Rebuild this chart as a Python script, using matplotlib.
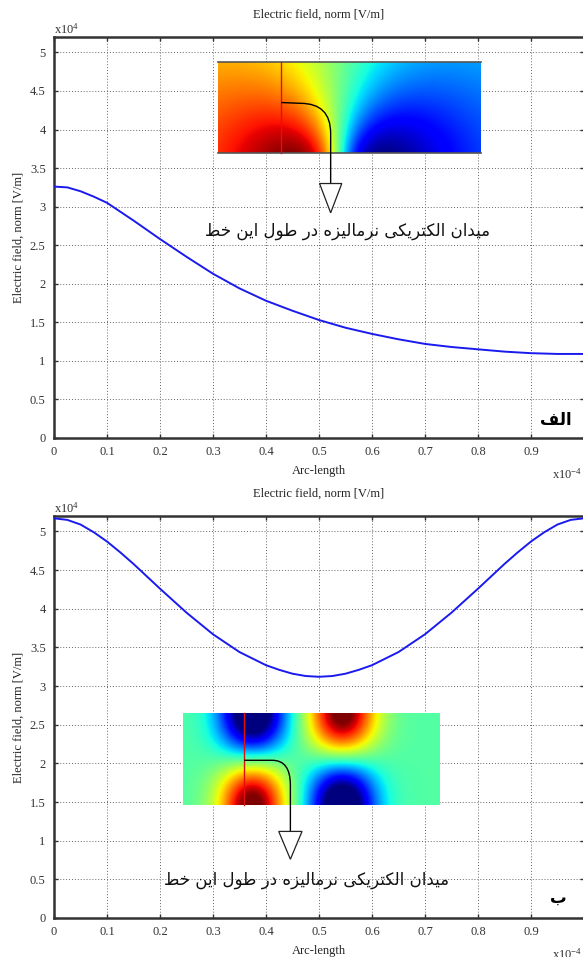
"""Two stacked COMSOL-style line plots of normalized electric field along an arc."""

import matplotlib
matplotlib.use("Agg")
import matplotlib.pyplot as plt
import numpy as np
from matplotlib.path import Path
from matplotlib.patches import PathPatch, Polygon

plt.rcParams["font.family"] = ["Liberation Serif", "DejaVu Serif"]
plt.rcParams["mathtext.fontset"] = "custom"
plt.rcParams["mathtext.rm"] = "Liberation Serif"
plt.rcParams["mathtext.it"] = "Liberation Serif"

# ---- data (arc-length in units of 1e-4, field in units of 1e4 V/m) ----
arc_a = [0, 0.025, 0.05, 0.075, 0.1, 0.15, 0.2, 0.25, 0.3, 0.35, 0.4, 0.45,
         0.5, 0.55, 0.6, 0.65, 0.7, 0.75, 0.8, 0.85, 0.9, 0.95, 1.0]
field_a = [3.26, 3.25, 3.20, 3.13, 3.05, 2.82, 2.58, 2.35, 2.13, 1.94, 1.78,
           1.65, 1.53, 1.43, 1.35, 1.28, 1.22, 1.18, 1.15, 1.12, 1.10, 1.09, 1.09]

arc_b = [0, 0.025, 0.05, 0.075, 0.1, 0.125, 0.15, 0.175, 0.2, 0.25, 0.3,
         0.35, 0.4, 0.425, 0.45, 0.475, 0.5, 0.525, 0.55, 0.575, 0.6, 0.65,
         0.7, 0.75, 0.8, 0.825, 0.85, 0.875, 0.9, 0.925, 0.95, 0.975, 1.0]
field_b = [5.17, 5.15, 5.09, 4.99, 4.87, 4.73, 4.58, 4.42, 4.26, 3.95, 3.67,
           3.44, 3.27, 3.21, 3.16, 3.13, 3.12, 3.13, 3.16, 3.21, 3.27, 3.44,
           3.67, 3.95, 4.26, 4.42, 4.58, 4.73, 4.87, 4.99, 5.09, 5.15, 5.17]

x_ticks = [0, 0.1, 0.2, 0.3, 0.4, 0.5, 0.6, 0.7, 0.8, 0.9, 1.0]
x_ticklabels = ["0", "0.1", "0.2", "0.3", "0.4", "0.5", "0.6", "0.7", "0.8", "0.9", ""]
y_ticks = [0, 0.5, 1, 1.5, 2, 2.5, 3, 3.5, 4, 4.5, 5]
y_ticklabels = ["0", "0.5", "1", "1.5", "2", "2.5", "3", "3.5", "4", "4.5", "5"]

title = "Electric field, norm [V/m]"
xlabel = "Arc-length"
note_fa = "میدان الکتریکی نرمالیزه در طول این خط"
panel_labels = ["الف", "ب"]

# ---- minimal Persian shaping (matplotlib has no RTL / joining support) ----
FORMS = {
    "ا": (0xFE8D, 0xFE8E, None, None),
    "د": (0xFEA9, 0xFEAA, None, None),
    "ر": (0xFEAD, 0xFEAE, None, None),
    "ز": (0xFEAF, 0xFEB0, None, None),
    "و": (0xFEED, 0xFEEE, None, None),
    "ب": (0xFE8F, 0xFE90, 0xFE91, 0xFE92),
    "م": (0xFEE1, 0xFEE2, 0xFEE3, 0xFEE4),
    "ن": (0xFEE5, 0xFEE6, 0xFEE7, 0xFEE8),
    "ل": (0xFEDD, 0xFEDE, 0xFEDF, 0xFEE0),
    "ت": (0xFE95, 0xFE96, 0xFE97, 0xFE98),
    "ط": (0xFEC1, 0xFEC2, 0xFEC3, 0xFEC4),
    "خ": (0xFEA5, 0xFEA6, 0xFEA7, 0xFEA8),
    "ه": (0xFEE9, 0xFEEA, 0xFEEB, 0xFEEC),
    "ف": (0xFED1, 0xFED2, 0xFED3, 0xFED4),
    "ک": (0xFB8E, 0xFB8F, 0xFB90, 0xFB91),
    "ی": (0xFBFC, 0xFBFD, 0xFBFE, 0xFBFF),
}


def shape_fa(text):
    out = []
    for i, c in enumerate(text):
        if c not in FORMS:
            out.append(c)
            continue
        prev = text[i - 1] if i > 0 else None
        nxt = text[i + 1] if i + 1 < len(text) else None
        join_prev = prev in FORMS and FORMS[prev][2] is not None
        join_next = FORMS[c][2] is not None and nxt in FORMS
        if join_prev and join_next:
            code = FORMS[c][3]
        elif join_prev:
            code = FORMS[c][1]
        elif join_next:
            code = FORMS[c][2]
        else:
            code = FORMS[c][0]
        out.append(chr(code))
    return "".join(reversed(out))


# ---- inset field pictures ----
def field_a_img(nx=300, ny=110):
    u, v = np.meshgrid(np.linspace(0, 1, nx), np.linspace(0, 1, ny))
    X = u * 2.86
    rp = np.hypot(X - 0.28 * 2.86, v + 0.15)
    rn = np.hypot(X - 0.63 * 2.86, v + 0.15)
    return 0.5 + 0.5 * np.tanh(1.15 * np.log(rn / rp))


def field_b_img(nx=300, ny=110):
    u, v = np.meshgrid(np.linspace(0, 1, nx), np.linspace(0, 1, ny))

    def g(u0, v0):
        return np.exp(-((u - u0) / 0.13) ** 2 - ((v - v0) / 0.5) ** 2)

    val = 0.45 + 0.6 * (g(0.27, 0) - g(0.62, 0) - g(0.27, 1) + g(0.62, 1))
    return np.clip(val, 0, 1)


def style_axes(ax):
    ax.set_xlim(0, 1)
    ax.set_ylim(0, 5.2)
    ax.set_xticks(x_ticks)
    ax.set_xticklabels(x_ticklabels)
    ax.set_yticks(y_ticks)
    ax.set_yticklabels(y_ticklabels)
    ax.grid(True, linestyle=(0, (1, 2)), color="#666666", linewidth=0.7)
    ax.tick_params(direction="in", length=3, width=1, top=True, right=True,
                   labelsize=9, colors="#333333", pad=6)
    for sp in ax.spines.values():
        sp.set_color("#333333")
        sp.set_linewidth(1.8)
    ax.text(0.5, 1.055, title, transform=ax.transAxes, ha="center",
            va="center", fontsize=9, color="#222222")
    ax.text(0.5, -0.082, xlabel, transform=ax.transAxes, ha="center",
            va="center", fontsize=9, color="#222222")
    ax.text(-0.066, 0.5, title, transform=ax.transAxes, ha="center",
            va="center", rotation=90, fontsize=9, color="#222222")
    ax.text(0.0, 1.0, r"x10$^{4}$", transform=ax.transAxes, ha="left",
            va="bottom", fontsize=9, color="#333333")
    ax.text(0.94, -0.09, r"x10$^{-4}$", transform=ax.transAxes, ha="left",
            va="center", fontsize=9, color="#333333")


def draw_pointer(ax, start, knee, corner, tri_top, tri_half, tri_tip):
    verts = [start, knee, (corner[0], knee[1]), corner, (corner[0], tri_top)]
    codes = [Path.MOVETO, Path.LINETO, Path.CURVE3, Path.CURVE3, Path.LINETO]
    ax.add_patch(PathPatch(Path(verts, codes), facecolor="none",
                           edgecolor="black", linewidth=1.0, zorder=6))
    tri = [(corner[0] - tri_half, tri_top), (corner[0] + tri_half, tri_top),
           (corner[0], tri_tip)]
    ax.add_patch(Polygon(tri, closed=True, facecolor="white",
                         edgecolor="#222222", linewidth=0.9, zorder=6))


fig = plt.figure(figsize=(5.83, 9.57), dpi=100)
ax1 = fig.add_axes([54 / 583, 1 - 438 / 957, 530 / 583, 401 / 957])
ax2 = fig.add_axes([54 / 583, 1 - 918 / 957, 530 / 583, 402 / 957])

fa_font = ["DejaVu Sans"]

# ---- panel a ----
ax1.plot(arc_a, field_a, color="#1a1aee", linewidth=1.4, zorder=4)
ax1.imshow(field_a_img(), extent=[0.31, 0.805, 3.70, 4.88], origin="lower",
           cmap="jet", vmin=0, vmax=1, aspect="auto", zorder=3,
           interpolation="bilinear")
ax1.plot([0.31, 0.805], [4.88, 4.88], color="#555555", lw=1.2, zorder=5)
ax1.plot([0.31, 0.805], [3.70, 3.70], color="#555555", lw=1.2, zorder=5)
ax1.plot([0.429, 0.429], [3.70, 4.88], color="#e01010", lw=1.0, zorder=5)
draw_pointer(ax1, (0.429, 4.35), (0.465, 4.34), (0.522, 3.95), 3.30, 0.021, 2.92)
ax1.text(0.554, 2.69, shape_fa(note_fa), family=fa_font, fontsize=12,
         ha="center", va="center", color="#111111", zorder=7)
ax1.text(0.947, 0.23, shape_fa(panel_labels[0]), family=fa_font, fontsize=12,
         fontweight="bold", ha="center", va="center", color="black")
style_axes(ax1)

# ---- panel b ----
ax2.plot(arc_b, field_b, color="#1a1aee", linewidth=1.4, zorder=4)
ax2.imshow(field_b_img(), extent=[0.244, 0.728, 1.46, 2.65], origin="lower",
           cmap="jet", vmin=0, vmax=1, aspect="auto", zorder=3,
           interpolation="bilinear")
ax2.plot([0.359, 0.359], [1.46, 2.65], color="#e01010", lw=1.0, zorder=5)
draw_pointer(ax2, (0.359, 2.04), (0.412, 2.04), (0.446, 1.72), 1.12, 0.022, 0.76)
ax2.text(0.476, 0.49, shape_fa(note_fa), family=fa_font, fontsize=12,
         ha="center", va="center", color="#111111", zorder=7)
ax2.text(0.951, 0.26, shape_fa(panel_labels[1]), family=fa_font, fontsize=12,
         fontweight="bold", ha="center", va="center", color="black")
style_axes(ax2)

fig.savefig("out.png", dpi=100)
